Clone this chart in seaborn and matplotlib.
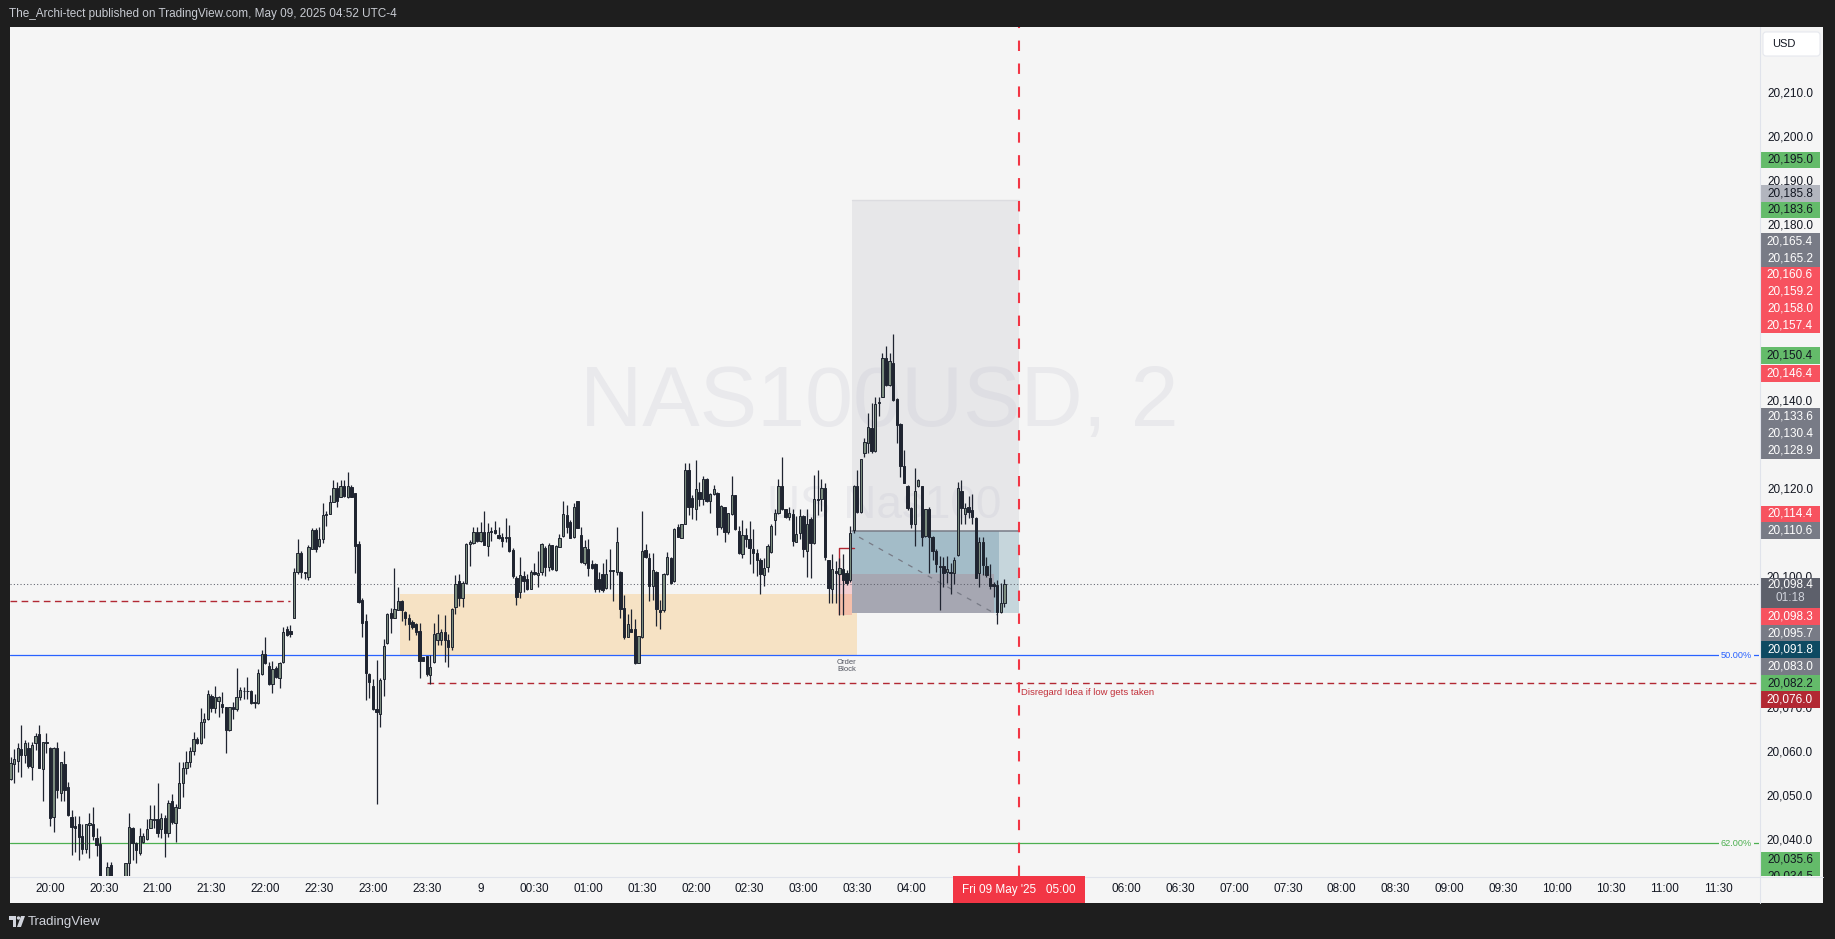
import numpy as np
import pandas as pd
import matplotlib.pyplot as plt
import matplotlib.patches as mpatches
import matplotlib.transforms as mtransforms
from matplotlib import font_manager
import seaborn as sns

W, H = 1835, 939

# NAS100USD 2-minute candles
first_bar = "2025-05-08 19:38"
opens = [
    20054.0, 20057.5, 20058.2, 20060.8, 20059.4, 20061.0, 20056.8, 20062.2, 20064.2, 20056.2,
    20062.3, 20061.2, 20045.3, 20061.0, 20050.8, 20057.5, 20052.1, 20045.3, 20043.3, 20043.9,
    20041.1, 20038.0, 20043.6, 20043.9, 20040.5, 20039.2, 20028.5, 20026.5, 20034.5, 20031.0,
    20027.0, 20028.5, 20030.0, 20034.8, 20042.8, 20039.4, 20037.1, 20039.8, 20040.3, 20042.8,
    20044.9, 20044.9, 20042.6, 20045.1, 20041.8, 20049.1, 20044.1, 20047.4, 20053.1, 20056.5,
    20058.0, 20060.3, 20063.1, 20062.2, 20067.1, 20067.6, 20072.9, 20070.1, 20071.9, 20071.0,
    20070.4, 20065.3, 20070.4, 20070.0, 20072.6, 20074.0, 20074.0, 20074.1, 20071.3, 20071.3,
    20077.9, 20082.6, 20079.8, 20075.6, 20079.2, 20077.0, 20080.6, 20088.3, 20087.8, 20090.6,
    20101.2, 20105.4, 20101.0, 20100.1, 20106.5, 20110.7, 20107.0, 20108.6, 20114.2, 20114.4,
    20117.2, 20120.2, 20118.3, 20120.8, 20118.2, 20120.6, 20119.1, 20107.5, 20094.8, 20090.1,
    20077.9, 20075.3, 20069.9, 20068.8, 20076.7, 20084.9, 20091.9, 20090.6, 20092.4, 20094.5,
    20092.0, 20090.6, 20089.7, 20089.3, 20087.7, 20081.7, 20082.0, 20077.7, 20080.6, 20085.7,
    20085.7, 20087.6, 20085.7, 20084.2, 20093.3, 20099.2, 20095.3, 20098.6, 20107.5, 20107.8,
    20110.2, 20108.3, 20110.3, 20107.1, 20110.3, 20110.7, 20109.7, 20109.2, 20109.0, 20109.1,
    20106.2, 20099.9, 20096.7, 20100.2, 20099.5, 20097.4, 20101.2, 20100.5, 20101.2, 20106.7,
    20102.4, 20107.4, 20101.6, 20106.9, 20109.4, 20114.1, 20112.6, 20109.2, 20117.3, 20109.6,
    20103.1, 20106.5, 20103.0, 20103.0, 20099.5, 20100.7, 20097.6, 20101.6, 20101.6, 20101.1,
    20101.1, 20092.9, 20086.4, 20088.2, 20088.3, 20080.5, 20086.4, 20106.2, 20104.3, 20098.0,
    20101.1, 20092.6, 20092.4, 20100.7, 20104.3, 20099.2, 20111.5, 20109.0, 20112.2, 20124.5,
    20117.9, 20115.6, 20119.4, 20117.7, 20122.3, 20117.4, 20118.9, 20119.2, 20111.5, 20115.9,
    20110.3, 20114.4, 20118.7, 20110.5, 20105.2, 20109.6, 20108.6, 20106.5, 20105.4, 20104.0,
    20100.5, 20102.2, 20105.8, 20112.9, 20114.5, 20120.7, 20115.4, 20113.8, 20114.4, 20108.1,
    20110.1, 20113.9, 20106.0, 20113.2, 20107.7, 20117.7, 20117.7, 20120.2, 20103.9, 20097.4,
    20101.4, 20100.7, 20101.8, 20100.9, 20099.3, 20110.7, 20120.7, 20114.9, 20128.2, 20130.5,
    20133.9, 20128.8, 20139.6, 20140.9, 20149.8, 20143.7, 20148.8, 20140.5, 20134.9, 20125.2,
    20120.7, 20115.7, 20112.2, 20120.7, 20120.7, 20109.4, 20115.6, 20109.2, 20106.0, 20102.5,
    20102.5, 20101.2, 20101.2, 20100.9, 20105.0, 20119.7, 20114.4, 20116.0, 20115.3, 20113.4,
    20100.9, 20108.1, 20102.5, 20099.9, 20098.4, 20098.2, 20092.1, 20094.2,
]
highs = [
    20059.1, 20060.8, 20062.2, 20066.3, 20062.9, 20062.5, 20062.5, 20064.6, 20066.3, 20062.5,
    20064.6, 20061.4, 20061.4, 20062.5, 20058.0, 20060.3, 20053.4, 20047.0, 20045.5, 20045.5,
    20043.9, 20043.9, 20046.2, 20047.6, 20042.8, 20041.1, 20030.5, 20035.1, 20035.2, 20031.5,
    20030.0, 20031.0, 20035.0, 20046.2, 20043.2, 20039.8, 20042.8, 20041.8, 20044.9, 20048.1,
    20048.1, 20053.1, 20046.2, 20045.8, 20049.3, 20050.6, 20048.3, 20058.0, 20057.8, 20060.3,
    20061.4, 20064.7, 20063.7, 20070.1, 20069.0, 20074.4, 20073.4, 20075.3, 20072.9, 20073.8,
    20070.5, 20070.5, 20071.6, 20079.2, 20075.0, 20075.0, 20077.3, 20074.3, 20073.5, 20079.0,
    20083.5, 20086.4, 20080.7, 20081.0, 20079.8, 20080.7, 20088.7, 20088.9, 20089.1, 20102.0,
    20108.6, 20105.9, 20101.2, 20107.3, 20111.1, 20111.1, 20111.3, 20116.8, 20115.0, 20118.7,
    20122.2, 20121.7, 20122.1, 20122.1, 20124.0, 20121.0, 20119.2, 20108.2, 20095.2, 20091.6,
    20078.1, 20076.9, 20081.1, 20077.0, 20085.9, 20091.9, 20092.9, 20102.0, 20097.8, 20094.9,
    20092.3, 20091.6, 20090.2, 20089.5, 20089.6, 20081.9, 20082.0, 20082.3, 20089.5, 20091.6,
    20088.3, 20091.4, 20087.0, 20093.0, 20100.5, 20100.7, 20099.2, 20107.8, 20108.4, 20111.3,
    20111.3, 20112.6, 20115.1, 20112.4, 20111.3, 20112.8, 20111.3, 20110.0, 20113.4, 20111.9,
    20106.6, 20100.2, 20104.5, 20101.4, 20100.8, 20101.6, 20103.1, 20105.9, 20107.8, 20107.1,
    20107.7, 20107.4, 20107.3, 20109.8, 20117.4, 20116.4, 20113.1, 20116.8, 20117.3, 20111.3,
    20108.4, 20108.6, 20103.9, 20103.1, 20101.2, 20103.3, 20104.2, 20106.5, 20101.6, 20111.3,
    20101.4, 20095.9, 20091.6, 20092.7, 20090.4, 20086.7, 20115.0, 20107.5, 20105.4, 20105.6,
    20101.5, 20094.9, 20101.0, 20105.8, 20104.6, 20111.1, 20112.2, 20112.2, 20125.9, 20125.9,
    20118.7, 20126.7, 20121.7, 20123.0, 20122.6, 20119.1, 20121.0, 20119.4, 20116.4, 20115.9,
    20114.7, 20123.0, 20118.7, 20111.6, 20113.0, 20111.1, 20112.8, 20110.9, 20106.3, 20104.3,
    20104.3, 20107.5, 20112.2, 20115.4, 20122.3, 20127.4, 20115.4, 20115.9, 20115.6, 20113.9,
    20115.4, 20114.1, 20115.4, 20113.8, 20123.2, 20124.4, 20122.3, 20121.4, 20104.0, 20105.3,
    20103.7, 20104.3, 20105.3, 20101.6, 20111.6, 20121.0, 20124.5, 20127.0, 20131.6, 20137.4,
    20139.6, 20140.9, 20141.1, 20151.1, 20152.6, 20151.1, 20155.4, 20140.7, 20135.2, 20128.9,
    20121.0, 20115.9, 20124.8, 20122.3, 20120.7, 20115.6, 20115.9, 20109.4, 20106.3, 20104.8,
    20104.5, 20104.7, 20103.1, 20104.5, 20121.7, 20122.1, 20116.8, 20118.5, 20118.9, 20113.6,
    20109.2, 20109.2, 20104.5, 20103.0, 20099.0, 20099.3, 20098.6, 20099.5,
]
lows = [
    20053.7, 20053.2, 20055.7, 20054.6, 20057.6, 20056.5, 20053.7, 20060.6, 20056.5, 20049.1,
    20059.9, 20043.4, 20042.0, 20049.6, 20049.0, 20049.0, 20045.6, 20036.7, 20037.5, 20035.6,
    20037.0, 20037.1, 20036.0, 20040.1, 20036.4, 20027.0, 20024.0, 20025.5, 20029.0, 20025.0,
    20023.5, 20026.0, 20028.0, 20031.0, 20035.6, 20034.8, 20036.7, 20039.4, 20040.2, 20042.8,
    20042.8, 20040.9, 20040.5, 20036.2, 20040.9, 20043.9, 20039.8, 20047.4, 20050.0, 20055.2,
    20056.8, 20059.5, 20062.0, 20062.0, 20063.3, 20067.5, 20069.4, 20069.1, 20068.2, 20069.0,
    20059.9, 20065.0, 20067.6, 20069.6, 20072.0, 20072.2, 20072.2, 20071.1, 20070.1, 20071.1,
    20077.7, 20080.2, 20075.4, 20073.7, 20077.0, 20074.7, 20080.4, 20086.6, 20086.3, 20090.6,
    20100.8, 20099.7, 20099.5, 20099.3, 20106.3, 20105.8, 20106.9, 20107.7, 20111.6, 20114.4,
    20117.2, 20115.9, 20118.3, 20118.2, 20118.0, 20118.2, 20100.9, 20094.2, 20086.4, 20072.0,
    20072.5, 20069.7, 20048.3, 20065.8, 20072.9, 20084.8, 20087.3, 20090.6, 20092.4, 20090.1,
    20089.1, 20085.7, 20088.1, 20086.8, 20077.1, 20080.9, 20077.5, 20075.6, 20080.5, 20084.5,
    20084.5, 20080.6, 20079.6, 20083.3, 20091.7, 20093.4, 20093.3, 20098.4, 20102.5, 20107.5,
    20108.1, 20108.1, 20107.3, 20104.8, 20108.3, 20109.8, 20108.7, 20106.9, 20108.1, 20105.8,
    20099.9, 20093.6, 20095.2, 20096.5, 20097.1, 20097.4, 20100.5, 20097.7, 20100.5, 20100.2,
    20101.5, 20101.6, 20101.5, 20106.8, 20109.2, 20110.0, 20108.8, 20109.0, 20111.1, 20103.3,
    20102.7, 20100.2, 20101.8, 20096.5, 20096.5, 20096.7, 20097.4, 20097.4, 20094.6, 20100.5,
    20090.6, 20086.0, 20086.3, 20087.4, 20080.2, 20080.4, 20086.2, 20104.3, 20094.6, 20094.9,
    20088.9, 20088.3, 20092.1, 20100.5, 20098.4, 20099.0, 20109.1, 20108.8, 20112.1, 20114.1,
    20113.2, 20113.0, 20116.2, 20116.4, 20117.2, 20114.7, 20118.7, 20109.6, 20110.9, 20108.1,
    20109.8, 20114.1, 20110.7, 20105.2, 20104.3, 20106.8, 20103.0, 20101.0, 20100.2, 20096.2,
    20098.0, 20101.2, 20105.6, 20109.6, 20114.4, 20115.3, 20113.4, 20112.9, 20107.1, 20107.9,
    20108.6, 20104.5, 20100.1, 20099.9, 20107.5, 20114.1, 20115.1, 20103.9, 20094.0, 20094.0,
    20094.0, 20091.4, 20091.4, 20098.2, 20099.0, 20110.0, 20114.7, 20114.5, 20127.4, 20128.3,
    20128.3, 20128.6, 20136.7, 20140.9, 20143.5, 20143.4, 20140.2, 20130.6, 20122.9, 20121.4,
    20115.3, 20111.1, 20107.1, 20120.6, 20107.1, 20109.2, 20101.0, 20104.0, 20101.2, 20092.4,
    20097.7, 20098.7, 20096.2, 20098.4, 20104.8, 20112.1, 20112.1, 20113.4, 20112.2, 20099.9,
    20097.7, 20100.5, 20100.1, 20097.2, 20095.4, 20089.3, 20091.8, 20093.1,
]
closes = [
    20057.6, 20058.5, 20061.0, 20059.4, 20062.2, 20057.1, 20061.8, 20063.8, 20056.5, 20062.4,
    20062.5, 20045.1, 20061.0, 20051.5, 20057.8, 20051.5, 20045.8, 20043.0, 20042.8, 20040.8,
    20038.0, 20043.8, 20044.1, 20041.1, 20039.0, 20028.5, 20026.0, 20033.9, 20031.0, 20027.0,
    20028.5, 20030.0, 20034.8, 20043.2, 20039.4, 20037.9, 20041.1, 20041.1, 20042.6, 20044.9,
    20044.7, 20041.8, 20045.1, 20041.8, 20048.5, 20044.3, 20047.6, 20053.1, 20056.5, 20058.0,
    20060.4, 20063.1, 20062.3, 20067.1, 20067.8, 20073.3, 20070.1, 20072.6, 20072.6, 20070.4,
    20065.3, 20070.4, 20069.9, 20072.8, 20074.3, 20074.1, 20074.1, 20071.3, 20071.5, 20078.1,
    20082.6, 20080.4, 20075.6, 20079.0, 20077.2, 20080.4, 20087.4, 20086.8, 20087.0, 20101.2,
    20105.4, 20101.2, 20101.1, 20106.9, 20110.7, 20106.5, 20108.6, 20114.1, 20114.4, 20117.2,
    20120.2, 20117.4, 20120.8, 20118.5, 20120.8, 20118.3, 20107.1, 20094.4, 20089.6, 20078.2,
    20076.2, 20069.9, 20069.4, 20076.6, 20084.3, 20091.7, 20090.6, 20092.7, 20094.5, 20092.4,
    20090.8, 20089.3, 20088.7, 20087.6, 20081.0, 20081.0, 20077.9, 20079.5, 20087.0, 20087.2,
    20087.6, 20085.7, 20084.0, 20092.7, 20098.4, 20095.2, 20098.6, 20107.5, 20108.1, 20110.2,
    20108.2, 20110.3, 20107.3, 20110.3, 20110.5, 20110.0, 20109.0, 20108.3, 20109.1, 20106.0,
    20100.2, 20095.5, 20100.5, 20099.2, 20097.2, 20101.2, 20100.7, 20101.0, 20107.5, 20102.4,
    20107.3, 20101.8, 20107.1, 20109.0, 20114.4, 20111.3, 20109.0, 20116.0, 20111.2, 20103.5,
    20106.8, 20102.0, 20102.0, 20097.4, 20097.4, 20097.1, 20100.8, 20101.4, 20101.4, 20107.9,
    20092.7, 20086.4, 20089.3, 20087.6, 20080.4, 20086.6, 20105.9, 20104.5, 20098.0, 20101.6,
    20092.7, 20092.1, 20100.8, 20104.5, 20098.7, 20110.9, 20109.2, 20112.2, 20124.4, 20116.0,
    20115.9, 20120.0, 20117.8, 20122.3, 20117.3, 20118.9, 20120.0, 20111.5, 20116.2, 20110.3,
    20114.5, 20118.7, 20110.9, 20105.4, 20109.6, 20108.6, 20106.6, 20105.4, 20104.0, 20100.7,
    20102.0, 20107.1, 20111.6, 20114.7, 20120.7, 20115.4, 20113.6, 20114.5, 20108.3, 20109.8,
    20113.9, 20106.3, 20112.1, 20107.8, 20117.7, 20117.6, 20120.4, 20104.5, 20097.5, 20101.8,
    20100.9, 20102.0, 20099.3, 20098.7, 20110.1, 20120.7, 20114.9, 20126.8, 20130.8, 20134.1,
    20128.8, 20139.4, 20139.9, 20150.0, 20143.7, 20149.3, 20140.3, 20134.6, 20125.2, 20121.5,
    20115.7, 20112.2, 20119.7, 20122.1, 20109.1, 20115.4, 20109.2, 20106.0, 20103.0, 20102.2,
    20100.9, 20101.8, 20100.9, 20104.0, 20120.2, 20115.7, 20115.7, 20114.9, 20113.6, 20099.9,
    20107.9, 20102.8, 20100.5, 20098.0, 20098.0, 20092.1, 20094.2, 20098.4,
]
bar_countdown = "01:18"

# price tags on the right scale
tag_prices = [20195.0, 20185.8, 20183.6, 20165.4, 20165.2, 20160.6, 20159.2, 20158.0,
              20157.4, 20150.4, 20146.4, 20133.6, 20130.4, 20128.9, 20114.4, 20110.6,
              20098.3, 20095.7, 20091.8, 20083.0, 20082.2, 20076.0, 20035.6, 20034.5]
tag_kinds = ['green', 'silver', 'green', 'gray', 'gray', 'red', 'red', 'red',
             'red', 'green', 'red', 'gray', 'gray', 'gray', 'red', 'gray',
             'red', 'gray', 'teal', 'gray', 'green', 'maroon', 'green', 'green']

# drawings
fib_levels = [20082.2, 20039.4]
fib_names = ['50.00%', '62.00%']
old_level, old_level_end = 20094.5, "2025-05-08 22:14"
invalid_level, invalid_start = 20076.0, "2025-05-08 23:30"
ob_start, ob_end, ob_low, ob_high = "2025-05-08 23:15", "2025-05-09 03:30", 20082.0, 20096.2
gap_start, gap_end, gap_low, gap_high = "2025-05-09 03:19", "2025-05-09 03:27", 20091.4, 20100.5
sweep_start, sweep_end, sweep_level = "2025-05-09 03:20", "2025-05-09 03:28", 20106.6
pos_start, pos_end = "2025-05-09 03:27", "2025-05-09 05:00"
entry, target, stop = 20110.6, 20185.8, 20091.8
filled_end, filled_top, tail_start = "2025-05-09 04:46", 20100.7, "2025-05-09 04:49"
diag_from, diag_to = ("2025-05-09 03:31", 20109.1), ("2025-05-09 04:48", 20091.4)
marker_time = "2025-05-09 05:00"

BG = '#f5f5f5'
FRAME = '#1e1e1e'
INK = '#131722'
WICK = '#1f2430'
UP = '#7b8c7e'

sns.set_theme(style="white", rc={"axes.facecolor": BG, "figure.facecolor": FRAME})
names = {f.name for f in font_manager.fontManager.ttflist}
plt.rcParams['font.family'] = ['Liberation Sans', 'DejaVu Sans']
narrow = 'Liberation Sans Narrow' if 'Liberation Sans Narrow' in names else 'Liberation Sans'

origin = pd.Timestamp("2025-05-08 20:00")


def tm(s):
    return (pd.Timestamp(s) - origin) / pd.Timedelta(minutes=1)


df = pd.DataFrame({'time': pd.date_range(first_bar, periods=len(opens), freq='2min'),
                   'open': opens, 'high': highs, 'low': lows, 'close': closes})
df['t'] = (df['time'] - origin) / pd.Timedelta(minutes=1)
last_price = df['close'].iloc[-1]

fig = plt.figure(figsize=(W / 100, H / 100), dpi=100)
pxt = mtransforms.Affine2D().scale(1 / W, -1 / H).translate(0, 1) + fig.transFigure

# panel background
fig.add_artist(mpatches.Rectangle((10, 27), 1813, 876, transform=pxt, facecolor=BG,
                                  edgecolor='none', zorder=-1))

PX_PER_MIN, X0 = 1.794, 50
L, R, T, B = 10, 1759, 27, 876
ax = fig.add_axes([L / W, 1 - B / H, (R - L) / W, (B - T) / H])
ax.set_xlim((L - X0) / PX_PER_MIN, (R - X0) / PX_PER_MIN)
ylim = (20031.95, 20225.25)
ax.set_ylim(*ylim)
for s in ax.spines.values():
    s.set_visible(False)
ax.set_yticks([])

mt = tm(marker_time)
box_half = 36.8
ticks = pd.date_range("2025-05-08 20:00", "2025-05-09 11:30", freq="30min")
tick_t = (ticks - origin) / pd.Timedelta(minutes=1)
tick_lbl = []
for t, tt in zip(ticks, tick_t):
    if abs(tt - mt) < box_half + 8:
        tick_lbl.append('')          # hidden under the date box
    elif t.hour == 0 and t.minute == 0:
        tick_lbl.append(str(t.day))
    else:
        tick_lbl.append(t.strftime('%H:%M'))
ax.set_xticks(tick_t)
ax.set_xticklabels(tick_lbl)
ax.tick_params(axis='x', length=0, pad=5, labelsize=8.5, labelcolor=INK)

# watermark
ax.text(0.497, 0.556, "NAS100USD, 2", transform=ax.transAxes, ha='center', va='center',
        fontsize=72 if narrow != 'Liberation Sans' else 62, family=narrow,
        color='#e9e9ec', zorder=0.5)
ax.text(0.4997, 0.436, "US Nas100", transform=ax.transAxes, ha='center', va='center',
        fontsize=33, color='#e9e9ec', zorder=0.5)

# order block, gap, position tool
ax.add_patch(mpatches.Rectangle((tm(ob_start), ob_low), tm(ob_end) - tm(ob_start), ob_high - ob_low,
                                facecolor=(1.0, 0.596, 0.0, 0.2), edgecolor='none', zorder=1))
ax.add_patch(mpatches.Rectangle((tm(gap_start), gap_low), tm(gap_end) - tm(gap_start), gap_high - gap_low,
                                facecolor=(0.949, 0.212, 0.271, 0.2), edgecolor='none', zorder=1.1))
ax.plot([tm(sweep_start), tm(sweep_start), tm(sweep_end)], [gap_high, sweep_level, sweep_level],
        color='#b22833', lw=1.0, zorder=2)
p0, p1 = tm(pos_start), tm(pos_end)
ax.add_patch(mpatches.Rectangle((p0, entry), p1 - p0, target - entry,
                                facecolor=(0.78, 0.78, 0.81, 0.3), edgecolor='none', zorder=1))
ax.plot([p0, p1], [target, target], color='#dcdce0', lw=1, zorder=1.2)
ax.add_patch(mpatches.Rectangle((p0, stop), tm(tail_start) - p0, entry - stop,
                                facecolor='#a3bcc8', edgecolor='none', zorder=1))
ax.add_patch(mpatches.Rectangle((tm(tail_start), stop), p1 - tm(tail_start), entry - stop,
                                facecolor='#c6d6dc', edgecolor='none', zorder=1))
ax.add_patch(mpatches.Rectangle((p0, stop), tm(filled_end) - p0, filled_top - stop,
                                facecolor='#a6a7b2', edgecolor='none', zorder=1.1))
ax.plot([p0, p1], [entry, entry], color='#787b86', lw=1.1, zorder=1.3)
ax.plot([tm(diag_from[0]), tm(diag_to[0])], [diag_from[1], diag_to[1]], color='#787b86',
        lw=0.9, dashes=(4, 5), zorder=1.3)

# horizontal levels
for lvl, name, col in zip(fib_levels, fib_names, ['#2962ff', '#4caf50']):
    ax.axhline(lvl, color=col, lw=0.9, zorder=2)
    ax.text(0.996, lvl, name, transform=mtransforms.blended_transform_factory(ax.transAxes, ax.transData),
            ha='right', va='center', fontsize=6.6, color=col, zorder=2.5,
            bbox=dict(facecolor=BG, edgecolor='none', pad=1.2))
ax.plot([ax.get_xlim()[0], tm(old_level_end)], [old_level, old_level], color='#b22833',
        lw=1.0, dashes=(4.8, 3.2), zorder=2)
ax.plot([tm(invalid_start), ax.get_xlim()[1]], [invalid_level, invalid_level], color='#b22833',
        lw=1.0, dashes=(4.8, 3.2), zorder=2)
ax.axhline(last_price, color='#5d606b', lw=0.75, dashes=(1, 2.2), zorder=2)

# candles
up = df['close'] >= df['open']
ax.vlines(df['t'], df['low'], df['high'], color=WICK, lw=0.9, zorder=3)
body_lo = np.minimum(df['open'], df['close'])
body_h = np.maximum((df['close'] - df['open']).abs(), 0.12)
ax.bar(df['t'], body_h, bottom=body_lo, width=1.3, color=np.where(up, UP, WICK),
       edgecolor=WICK, linewidth=0.7, zorder=4)

# vertical marker
ax.axvline(mt, color='#f23645', lw=1.5, dashes=(5, 6), zorder=5)

ax.text(tm(ob_end) - 0.6, ob_low - 0.6, "Order\nBlock", ha='right', va='top', fontsize=5.5,
        multialignment='right', linespacing=1.0, color='#50535e', zorder=6)
ax.text(mt + 1.2, invalid_level - 1.3, "Disregard Idea if low gets taken",
        ha='left', va='top', fontsize=6.8, color='#c2303a', zorder=6)

# price scale
ax2 = fig.add_axes([R / W, 1 - B / H, 64 / W, (B - T) / H])
ax2.set_xlim(0, 1)
ax2.set_ylim(*ylim)
ax2.axis('off')
bt = mtransforms.blended_transform_factory(ax2.transAxes, ax2.transData)

styles = {'green': ('#64bb6a', INK), 'silver': ('#b2b5be', INK), 'gray': ('#787b86', 'white'),
          'red': ('#f7525f', 'white'), 'teal': ('#0e4a62', 'white'), 'maroon': ('#b22833', 'white')}
h = 16.7 / 4.392
cur_top = last_price + 1.4
cur_bot = cur_top - 30 / 4.392
tags = sorted(zip(tag_prices, tag_kinds), key=lambda x: x[0])
placed = []
limit = cur_top
for p, k in [t for t in tags if t[0] > last_price]:
    y = max(p, limit + h / 2)
    limit = y + h / 2
    placed.append((y, p, k))
limit = cur_bot
for p, k in [t for t in tags[::-1] if t[0] <= last_price]:
    y = min(p, limit - h / 2)
    limit = y - h / 2
    placed.append((y, p, k))
covered = [(y - h / 2, y + h / 2) for y, _, _ in placed] + [(cur_bot, cur_top)]
usd_floor = 20210 + (94 - 56) / 4.392

for p in range(20040, 20221, 10):
    if p > usd_floor or any(lo + 0.6 < p < hi - 0.6 for lo, hi in covered):
        continue
    ax2.text(0.484, p, f"{p:,.1f}", transform=bt, ha='center', va='center', fontsize=8.5,
             color=INK, zorder=1)

for y, p, k in placed:
    fc, tc = styles[k]
    ax2.add_patch(mpatches.Rectangle((0.016, y - h / 2), 0.9375, h, transform=bt, facecolor=fc,
                                     edgecolor='none', zorder=2, clip_on=True))
    ax2.text(0.484, y, f"{p:,.1f}", transform=bt, ha='center', va='center', fontsize=8.5,
             color=tc, zorder=3, clip_on=True)
ax2.add_patch(mpatches.Rectangle((0.016, cur_bot), 0.9375, cur_top - cur_bot, transform=bt,
                                 facecolor='#5d606b', edgecolor='none', zorder=2))
ax2.text(0.484, last_price, f"{last_price:,.1f}", transform=bt, ha='center', va='center',
         fontsize=8.5, color='white', zorder=3)
ax2.text(0.484, last_price - 3.1, bar_countdown, transform=bt, ha='center', va='center',
         fontsize=8.5, color='#d1d4dc', zorder=3)

fig.add_artist(mpatches.FancyBboxPatch((1763, 32), 57, 24, boxstyle="round,pad=0,rounding_size=3",
                                       transform=pxt, facecolor='white', edgecolor='#e6e8ee',
                                       lw=0.8, zorder=4))
fig.text(1772, 44, "USD", transform=pxt, ha='left', va='center', fontsize=8, color=INK, zorder=5)

fig.add_artist(plt.Line2D([1759.5, 1759.5], [27, 903], transform=pxt, color='#e0e3eb', lw=0.8, zorder=3))
fig.add_artist(plt.Line2D([10, 1823], [876.5, 876.5], transform=pxt, color='#e0e3eb', lw=0.8, zorder=3))

# date box on the time scale, above the separator
bx = mtransforms.blended_transform_factory(ax.transData, pxt)
fig.add_artist(mpatches.Rectangle((mt - box_half, 876), 2 * box_half, 27, transform=bx,
                                  facecolor='#f23645', edgecolor='none', zorder=6))
stamp = pd.Timestamp(marker_time)
fig.text(mt, 889.5, stamp.strftime("%a %d %b '%y") + "   " + stamp.strftime('%H:%M'), transform=bx,
         ha='center', va='center', fontsize=8.5, color='white', zorder=7)

# header and footer
fig.text(9, 14, "The_Archi-tect published on TradingView.com, May 09, 2025 04:52 UTC-4",
         transform=pxt, ha='left', va='center', fontsize=8.5, color='#c8cbd2')
fig.add_artist(mpatches.Rectangle((9, 916), 7, 3.5, transform=pxt, facecolor='#d1d4dc', edgecolor='none'))
fig.add_artist(mpatches.Rectangle((12.5, 916), 3.5, 11, transform=pxt, facecolor='#d1d4dc', edgecolor='none'))
fig.add_artist(mpatches.Circle((18.5, 918), 1.7, transform=pxt, facecolor='#d1d4dc', edgecolor='none'))
fig.add_artist(mpatches.Polygon([(21, 916), (25, 916), (21, 927), (17, 927)], transform=pxt,
                                facecolor='#d1d4dc', edgecolor='none'))
fig.text(28, 922, "TradingView", transform=pxt, ha='left', va='center', fontsize=9.5,
         color='#d1d4dc')

fig.savefig("out.png", dpi=100, facecolor=FRAME)
